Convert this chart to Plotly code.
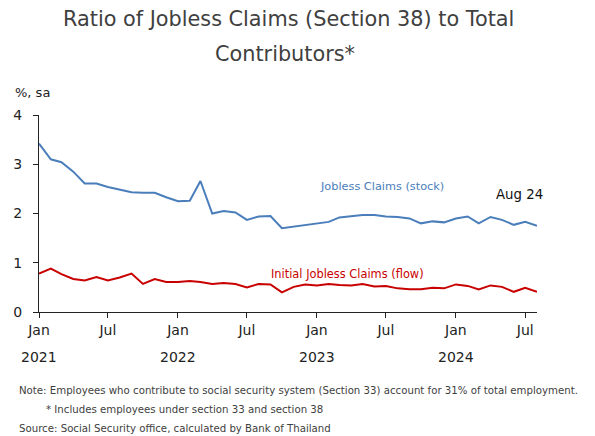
import pandas as pd
import plotly.graph_objects as go

months = pd.date_range("2021-01-01", "2024-08-01", freq="MS")

stock = [3.42, 3.10, 3.04, 2.85, 2.61, 2.61, 2.54, 2.48, 2.43, 2.42, 2.42, 2.33,
         2.25, 2.26, 2.66, 2.00, 2.05, 2.02, 1.87, 1.94, 1.95, 1.70, 1.73, 1.77,
         1.80, 1.83, 1.92, 1.94, 1.97, 1.97, 1.94, 1.93, 1.90, 1.80, 1.84, 1.82,
         1.90, 1.94, 1.80, 1.93, 1.87, 1.77, 1.83, 1.75]

flow = [0.78, 0.88, 0.77, 0.67, 0.64, 0.71, 0.64, 0.70, 0.78, 0.57, 0.67, 0.61,
        0.61, 0.63, 0.61, 0.57, 0.59, 0.57, 0.50, 0.57, 0.56, 0.40, 0.51, 0.56,
        0.54, 0.57, 0.55, 0.54, 0.57, 0.52, 0.53, 0.48, 0.46, 0.46, 0.49, 0.48,
        0.56, 0.53, 0.46, 0.54, 0.51, 0.41, 0.49, 0.41]

tick_dates = ["2021-01-01", "2021-07-01", "2022-01-01", "2022-07-01",
              "2023-01-01", "2023-07-01", "2024-01-01", "2024-07-01"]
tick_text = ["Jan", "Jul", "Jan", "Jul", "Jan", "Jul", "Jan", "Jul"]
year_dates = ["2021-01-01", "2022-01-01", "2023-01-01", "2024-01-01"]
year_text = ["2021", "2022", "2023", "2024"]

FONT = "DejaVu Sans"
BLUE = "#4A7EBB"
RED = "#C80000"
GREY = "#404040"
DARK = "#222222"

# page body has an 8px margin; work in screen pixels and convert
OFF = 8
W, H = 595 - OFF, 436 - OFF
PL, PR, PT, PB = 39, 537, 115, 312  # plot area in screen pixels
L, R, T, B = PL - OFF, W - (PR - OFF), PT - OFF, H - (PB - OFF)
pw, ph = W - L - R, H - T - B


def px(x, y):
    return (x - OFF - L) / pw, (H - B - (y - OFF)) / ph


fig = go.Figure()
fig.add_trace(go.Scatter(x=months, y=stock, mode="lines",
                         line=dict(color=BLUE, width=2), name="Jobless Claims (stock)"))
fig.add_trace(go.Scatter(x=months, y=flow, mode="lines",
                         line=dict(color=RED, width=2), name="Initial Jobless Claims (flow)"))

ann = []
for tx, ty, tt, fs, col, xa in [
    (288, 19, "Ratio of Jobless Claims (Section 38) to Total", 20.8, GREY, "center"),
    (285, 54, "Contributors*", 20.8, GREY, "center"),
    (13, 92, "%, sa", 13, DARK, "left"),
    (17, 390, "Note: Employees who contribute to social security system (Section 33) account for 31% of total employment.", 10.2, GREY, "left"),
    (44, 409, "* Includes employees under section 33 and section 38", 10.2, GREY, "left"),
    (17, 428, "Source: Social Security office, calculated by Bank of Thailand", 10.2, GREY, "left"),
]:
    ax, ay = px(tx, ty)
    ann.append(dict(text=tt, x=ax, y=ay, xref="paper", yref="paper", xanchor=xa,
                    yanchor="middle", showarrow=False, font=dict(size=fs, color=col)))
for yd, yt in zip(year_dates, year_text):
    ann.append(dict(text=yt, x=yd, y=0, xref="x", yref="paper", yanchor="middle",
                    yshift=-45, showarrow=False, font=dict(size=14, color=DARK)))
ann.append(dict(text="Jobless Claims (stock)", x="2023-06-22", y=2.54, xref="x", yref="y",
                showarrow=False, font=dict(size=11.3, color=BLUE)))
ann.append(dict(text="Initial Jobless Claims (flow)", x="2023-03-21", y=0.77, xref="x", yref="y",
                showarrow=False, font=dict(size=11.4, color=RED)))
ann.append(dict(text="Aug 24", x="2024-06-15", y=2.38, xref="x", yref="y",
                showarrow=False, font=dict(size=13.3, color="#111111")))

fig.update_layout(
    width=W, height=H,
    margin=dict(l=L, r=R, t=T, b=B, autoexpand=False),
    paper_bgcolor="white", plot_bgcolor="white",
    font=dict(family=FONT, color=DARK),
    showlegend=False,
    annotations=ann,
    xaxis=dict(range=["2021-01-01", "2024-08-01"], tickvals=tick_dates, ticktext=tick_text,
               showgrid=False, showline=True, linecolor=DARK, linewidth=1,
               ticks="outside", ticklen=5, tickcolor=DARK, automargin=False,
               tickfont=dict(size=14, color=DARK), zeroline=False),
    yaxis=dict(range=[0, 4], dtick=1, showgrid=False, showline=True, linecolor=DARK,
               linewidth=1, ticks="outside", ticklen=5, tickcolor=DARK, ticklabelstandoff=8,
               automargin=False, tickfont=dict(size=14, color=DARK), zeroline=False),
)

fig.write_html("out.html")
